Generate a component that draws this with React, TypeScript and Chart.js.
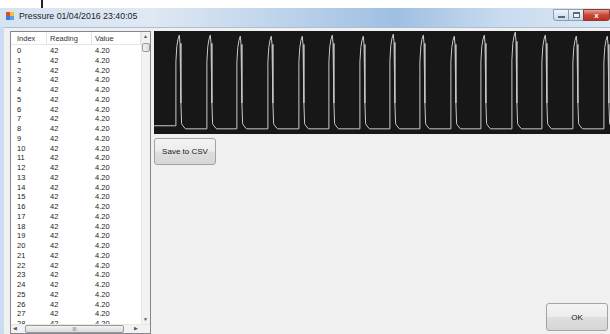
import React, { useEffect, useRef } from "react";
import { Chart, registerables } from "chart.js";

Chart.register(...registerables);

// Waveform samples: time (panel units) and pressure level (% of panel height)
const timeValues: number[] = [
  0, 20.5,
  21.0, 21.9, 22.8, 24.0, 25.3, 26.0, 26.9, 27.6, 28.8, 31.5,
  52.0, 52.9, 53.8, 55.0, 56.3, 57.0, 57.9, 58.6, 59.8, 62.5,
  82.0, 82.9, 83.8, 85.0, 86.3, 87.0, 87.9, 88.6, 89.8, 92.5,
  113.0, 113.9, 114.8, 116.0, 117.3, 118.0, 118.9, 119.6, 120.8, 123.5,
  144.0, 144.9, 145.8, 147.0, 148.3, 149.0, 149.9, 150.6, 151.8, 154.5,
  174.0, 174.9, 175.8, 177.0, 178.3, 179.0, 179.9, 180.6, 181.8, 184.5,
  205.0, 205.9, 206.8, 208.0, 209.3, 210.0, 210.9, 211.6, 212.8, 215.5,
  235.0, 235.9, 236.8, 238.0, 239.3, 240.0, 240.9, 241.6, 242.8, 245.5,
  265.0, 265.9, 266.8, 268.0, 269.3, 270.0, 270.9, 271.6, 272.8, 275.5,
  296.0, 296.9, 297.8, 299.0, 300.3, 301.0, 301.9, 302.6, 303.8, 306.5,
  326.0, 326.9, 327.8, 329.0, 330.3, 331.0, 331.9, 332.6, 333.8, 336.5,
  357.0, 357.9, 358.8, 360.0, 361.3, 362.0, 362.9, 363.6, 364.8, 367.5,
  387.0, 387.9, 388.8, 390.0, 391.3, 392.0, 392.9, 393.6, 394.8, 397.5,
  418.0, 418.9, 419.8, 421.0, 422.3, 423.0, 423.9, 424.6, 425.8, 428.5,
  449.0, 449.9, 450.8, 452.0, 453.3, 454.0, 454.9, 455.6, 457.0,
];

const pressureValues: number[] = [
  8, 8,
  8, 70, 85, 92, 96, 88, 30, 10, 8, 5,
  5, 70, 85, 92, 96, 88, 30, 10, 8, 5,
  5, 70, 84, 91, 95, 87, 30, 10, 8, 5,
  5, 70, 84, 91, 95, 87, 30, 10, 8, 5,
  5, 70, 84, 91, 95, 87, 30, 10, 8, 5,
  5, 70, 85, 92, 96, 88, 30, 10, 8, 5,
  5, 70, 84, 91, 95, 87, 30, 10, 8, 5,
  5, 71, 86, 93, 97, 89, 30, 10, 8, 5,
  5, 70, 85, 92, 96, 88, 30, 10, 8, 5,
  5, 70, 84, 91, 95, 87, 30, 10, 8, 5,
  5, 70, 85, 92, 96, 88, 30, 10, 8, 5,
  5, 72, 88, 95, 99, 90, 30, 10, 8, 5,
  5, 70, 85, 92, 96, 88, 30, 10, 8, 5,
  5, 70, 84, 91, 95, 87, 30, 10, 8, 5,
  5, 70, 84, 91, 95, 87, 30, 10, 8,
];

// List view contents
const listIndex: string[] = [
  "0", "1", "2", "3", "4", "5", "6", "7", "8", "9", "10", "11", "12", "13", "14",
  "15", "16", "17", "18", "19", "20", "21", "22", "23", "24", "25", "26", "27", "28",
];
const listReading: string[] = [
  "42", "42", "42", "42", "42", "42", "42", "42", "42", "42", "42", "42", "42", "42", "42",
  "42", "42", "42", "42", "42", "42", "42", "42", "42", "42", "42", "42", "42", "42",
];
const listValue: string[] = [
  "4.20", "4.20", "4.20", "4.20", "4.20", "4.20", "4.20", "4.20", "4.20", "4.20", "4.20",
  "4.20", "4.20", "4.20", "4.20", "4.20", "4.20", "4.20", "4.20", "4.20", "4.20", "4.20",
  "4.20", "4.20", "4.20", "4.20", "4.20", "4.20", "4.20",
];
const listHeaders: string[] = ["Index", "Reading", "Value"];

const titleText = "Pressure 01/04/2016 23:40:05";
const saveLabel = "Save to CSV";
const okLabel = "OK";

const FONT = "'Liberation Sans', Arial, sans-serif";

const abs = (l: number, t: number, w: number, h: number): React.CSSProperties => ({
  position: "absolute",
  left: l,
  top: t,
  width: w,
  height: h,
  boxSizing: "border-box",
});

const btnStyle: React.CSSProperties = {
  border: "1px solid #a3a3a3",
  borderRadius: 3,
  background: "linear-gradient(#f4f4f4 0%, #ececec 48%, #dedede 52%, #d6d6d6 100%)",
  display: "flex",
  alignItems: "center",
  justifyContent: "center",
  fontFamily: FONT,
  fontSize: 8,
  color: "#1a1a1a",
};

const cellText: React.CSSProperties = {
  position: "absolute",
  fontFamily: FONT,
  fontSize: 7.5,
  color: "#1a1a1a",
  lineHeight: "9px",
  whiteSpace: "nowrap",
};

function Waveform() {
  const ref = useRef<HTMLCanvasElement | null>(null);
  useEffect(() => {
    if (!ref.current) return;
    const points = timeValues.map((t, i) => ({ x: t, y: pressureValues[i] }));
    const chart = new Chart(ref.current, {
      type: "line",
      data: {
        datasets: [
          {
            data: points,
            borderColor: "#c9c9c9",
            borderWidth: 1,
            pointRadius: 0,
            tension: 0,
            fill: false,
          },
        ],
      },
      options: {
        animation: false,
        responsive: false,
        maintainAspectRatio: false,
        layout: { padding: 0 },
        plugins: { legend: { display: false }, tooltip: { enabled: false } },
        scales: {
          x: { type: "linear", min: 0, max: 456, display: false },
          y: { min: 0, max: 100, display: false },
        },
      },
    });
    return () => chart.destroy();
  }, []);
  return (
    <canvas
      ref={ref}
      width={456}
      height={103}
      style={{ position: "absolute", left: 154, top: 31, width: 456, height: 103, background: "#171717" }}
    />
  );
}

export default function App() {
  const rowH = 9.75;
  return (
    <div style={{ position: "fixed", left: 0, top: 0, width: 610, height: 334, overflow: "hidden", background: "#ffffff" }}>
      {/* stray mark above window */}
      <div style={{ ...abs(41, 0, 2, 8), background: "#222" }} />
      {/* window frame */}
      <div style={{ ...abs(0, 8, 610, 326), background: "linear-gradient(90deg, #c9dcf0 0%, #d7e5f3 30%, #a9c7e6 55%, #bcd4ec 75%, #d2e2f2 90%, #c4d9ee 100%)" }} />
      {/* title bar */}
      <div style={{ ...abs(0, 8, 610, 19), background: "linear-gradient(90deg, #d6e3f1 0%, #dfe8f3 25%, #b7cfe9 50%, #9fbfe2 65%, #c8dbef 82%, #dce8f4 100%)" }} />
      {/* icon */}
      <div style={{ ...abs(6, 12, 4, 4), background: "#e24a2c" }} />
      <div style={{ ...abs(10, 12, 4, 4), background: "#f1c232" }} />
      <div style={{ ...abs(6, 16, 4, 4), background: "#3d7fd6" }} />
      <div style={{ ...abs(10, 16, 4, 4), background: "#5aa0e8" }} />
      <div style={{ position: "absolute", left: 19, top: 11, fontFamily: FONT, fontSize: 8.8, color: "#1c1c1c", whiteSpace: "nowrap", lineHeight: "10px" }}>
        {titleText}
      </div>
      {/* caption buttons */}
      <div style={{ ...abs(553, 9, 16, 12), border: "1px solid #8aa0b8", borderRadius: "0 0 0 3px", background: "linear-gradient(#eef3f9, #c9d8e8)" }}>
        <div style={{ ...abs(4, 6, 7, 2), background: "#ffffff", border: "1px solid #5a6a7c" }} />
      </div>
      <div style={{ ...abs(568, 9, 16, 12), border: "1px solid #8aa0b8", background: "linear-gradient(#eef3f9, #c9d8e8)" }}>
        <div style={{ ...abs(4, 2, 7, 6), border: "1px solid #5a6a7c", borderTopWidth: 2, background: "#eef3f9" }} />
      </div>
      <div style={{ ...abs(583, 9, 27, 12), border: "1px solid #8a3b33", borderRadius: "0 0 3px 0", background: "linear-gradient(#e8a093, #c9473a 50%, #b93224)", color: "#fff", fontFamily: FONT, fontSize: 8, fontWeight: "bold", display: "flex", alignItems: "center", justifyContent: "center" }}>
        x
      </div>
      {/* client area */}
      <div style={{ ...abs(4, 27, 606, 307), background: "#f0f0f0", borderTop: "1px solid #a9bfd6" }} />

      {/* list view */}
      <div style={{ ...abs(10, 31, 141, 303), background: "#ffffff", border: "1px solid #82878f", overflow: "hidden" }}>
        {/* header */}
        <div style={{ ...abs(0, 0, 130, 13), background: "#ffffff", borderBottom: "1px solid #e5e5e5" }} />
        <div style={{ ...abs(35, 0, 1, 13), background: "#e3e3e3" }} />
        <div style={{ ...abs(80, 0, 1, 13), background: "#e3e3e3" }} />
        <div style={{ ...abs(129, 0, 1, 13), background: "#e3e3e3" }} />
        {listHeaders.map((h, i) => (
          <div key={h} style={{ ...cellText, left: [6, 39, 84][i], top: 2, color: "#333" }}>
            {h}
          </div>
        ))}
        {listIndex.map((idx, i) => (
          <React.Fragment key={idx}>
            <div style={{ ...cellText, left: 6, top: 14 + i * rowH }}>{idx}</div>
            <div style={{ ...cellText, left: 39, top: 14 + i * rowH }}>{listReading[i]}</div>
            <div style={{ ...cellText, left: 84, top: 14 + i * rowH }}>{listValue[i]}</div>
          </React.Fragment>
        ))}
        {/* vertical scrollbar */}
        <div style={{ ...abs(130, 0, 10, 293), background: "#f2f2f2", borderLeft: "1px solid #e8e8e8" }} />
        <div style={{ position: "absolute", left: 132, top: 1, fontSize: 5, color: "#555", fontFamily: FONT }}>▲</div>
        <div style={{ ...abs(131, 11, 8, 9), background: "linear-gradient(90deg,#f3f3f3,#dcdcdc)", border: "1px solid #9a9a9a", borderRadius: 2 }} />
        <div style={{ position: "absolute", left: 132, top: 284, fontSize: 5, color: "#555", fontFamily: FONT }}>▼</div>
        {/* horizontal scrollbar */}
        <div style={{ ...abs(0, 292, 140, 10), background: "#f2f2f2", borderTop: "1px solid #e8e8e8" }} />
        <div style={{ position: "absolute", left: 2, top: 293, fontSize: 5, color: "#555", fontFamily: FONT }}>◀</div>
        <div style={{ ...abs(14, 293, 99, 8), background: "linear-gradient(#f3f3f3,#dadada)", border: "1px solid #9a9a9a", borderRadius: 2, display: "flex", alignItems: "center", justifyContent: "center", fontSize: 5, color: "#666", fontFamily: FONT }}>III</div>
        <div style={{ position: "absolute", left: 123, top: 293, fontSize: 5, color: "#555", fontFamily: FONT }}>▶</div>
      </div>

      <Waveform />

      <div style={{ ...abs(154, 138, 62, 27), ...btnStyle }}>{saveLabel}</div>
      <div style={{ ...abs(546, 303, 62, 28), ...btnStyle }}>{okLabel}</div>
    </div>
  );
}
